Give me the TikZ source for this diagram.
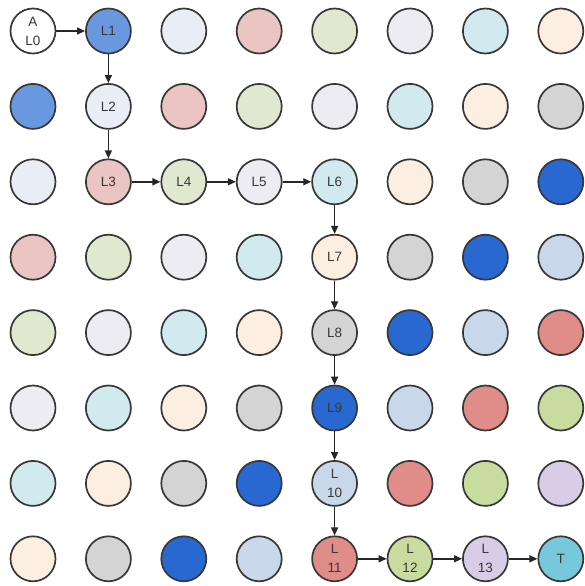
\documentclass[tikz,border=0pt]{standalone}
\usepackage{fontspec}
\setmainfont{Liberation Sans}
\usetikzlibrary{arrows.meta}
\definecolor{c0}{HTML}{FFFFFF}
\definecolor{c1}{HTML}{6A98E0}
\definecolor{c2}{HTML}{E9EEF6}
\definecolor{c3}{HTML}{EBC4C4}
\definecolor{c4}{HTML}{E0E8D0}
\definecolor{c5}{HTML}{ECECF2}
\definecolor{c6}{HTML}{D0EAF0}
\definecolor{c7}{HTML}{FDEEE2}
\definecolor{c8}{HTML}{D4D4D4}
\definecolor{c9}{HTML}{2868D0}
\definecolor{c10}{HTML}{C8D8EA}
\definecolor{c11}{HTML}{E08C88}
\definecolor{c12}{HTML}{C8DCA0}
\definecolor{c13}{HTML}{D8CCE6}
\definecolor{c14}{HTML}{78C8DC}
\definecolor{rim}{HTML}{383838}
\definecolor{txt}{HTML}{383838}
\expandafter\def\csname lab-0-0\endcsname{A\\L0}
\expandafter\def\csname lab-0-1\endcsname{L1}
\expandafter\def\csname lab-1-1\endcsname{L2}
\expandafter\def\csname lab-2-1\endcsname{L3}
\expandafter\def\csname lab-2-2\endcsname{L4}
\expandafter\def\csname lab-2-3\endcsname{L5}
\expandafter\def\csname lab-2-4\endcsname{L6}
\expandafter\def\csname lab-3-4\endcsname{L7}
\expandafter\def\csname lab-4-4\endcsname{L8}
\expandafter\def\csname lab-5-4\endcsname{L9}
\expandafter\def\csname lab-6-4\endcsname{L\\10}
\expandafter\def\csname lab-7-4\endcsname{L\\11}
\expandafter\def\csname lab-7-5\endcsname{L\\12}
\expandafter\def\csname lab-7-6\endcsname{L\\13}
\expandafter\def\csname lab-7-7\endcsname{T}
\begin{document}
\begin{tikzpicture}[x=1pt,y=1pt,
  cell/.style={circle,draw=rim,line width=1.7pt,minimum size=45pt,inner sep=0pt,
    align=center,text=txt,font=\fontsize{13.5}{19}\selectfont},
  link/.style={line width=1.4pt,draw=black!85,-{Triangle[length=8pt,width=7pt]}}]
\useasboundingbox (0,0) rectangle (584,-586);
\foreach \i in {0,...,7}{
  \foreach \j in {0,...,7}{
    \pgfmathtruncatemacro\d{\i+\j}
    \node[cell,fill=c\d] (n-\i-\j) at ({33+75.4*\j},{-31-75.4*\i}) {\csname lab-\i-\j\endcsname};
  }
}
\draw[link] (n-0-0) -- (n-0-1);
\draw[link] (n-0-1) -- (n-1-1);
\draw[link] (n-1-1) -- (n-2-1);
\draw[link] (n-2-1) -- (n-2-2);
\draw[link] (n-2-2) -- (n-2-3);
\draw[link] (n-2-3) -- (n-2-4);
\draw[link] (n-2-4) -- (n-3-4);
\draw[link] (n-3-4) -- (n-4-4);
\draw[link] (n-4-4) -- (n-5-4);
\draw[link] (n-5-4) -- (n-6-4);
\draw[link] (n-6-4) -- (n-7-4);
\draw[link] (n-7-4) -- (n-7-5);
\draw[link] (n-7-5) -- (n-7-6);
\draw[link] (n-7-6) -- (n-7-7);
\end{tikzpicture}
\end{document}
